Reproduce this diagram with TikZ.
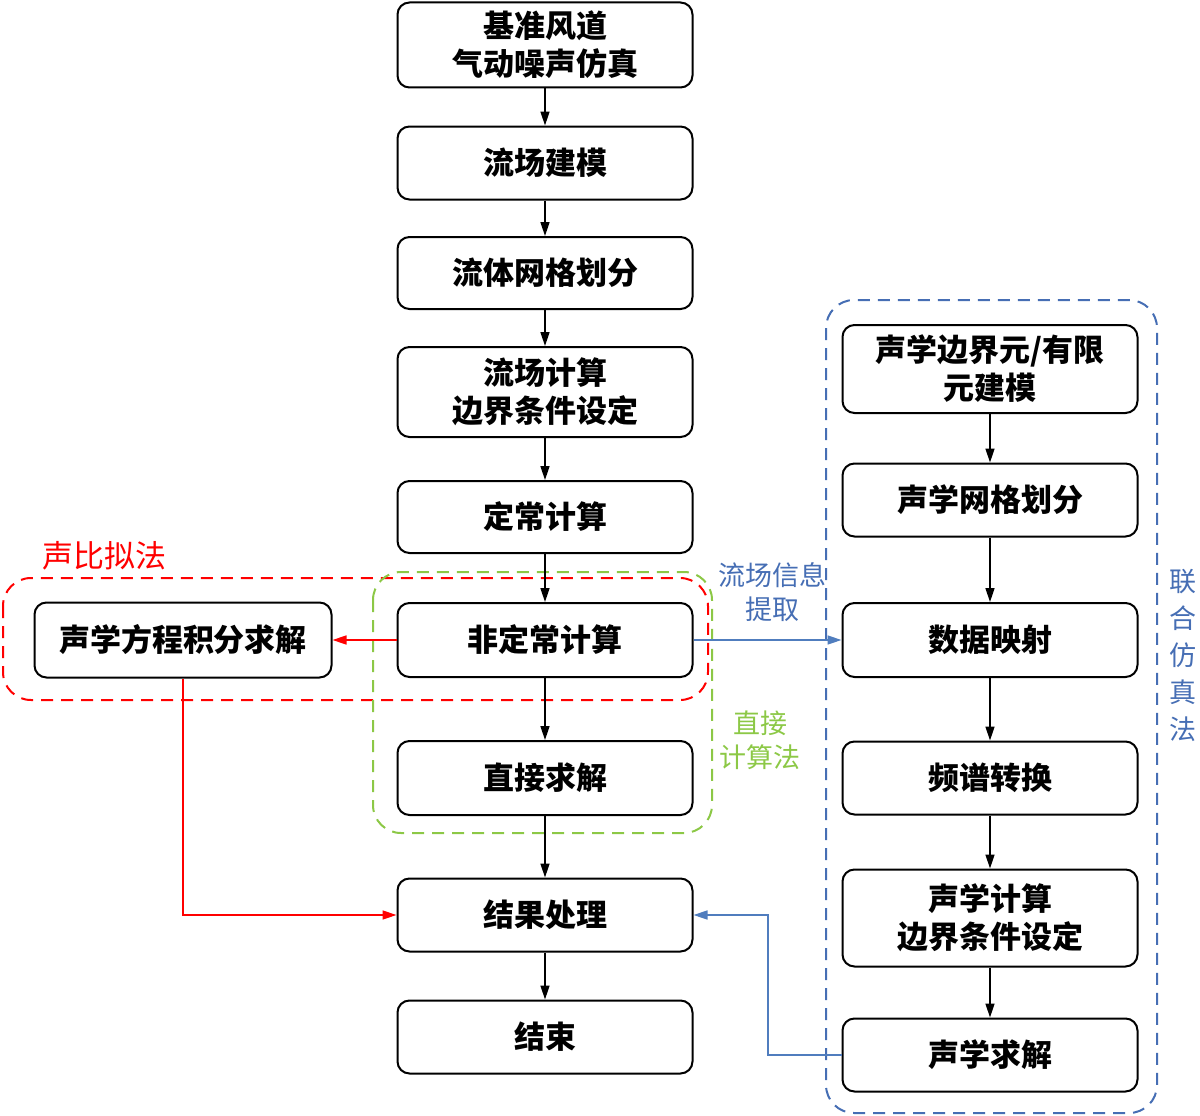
\documentclass[tikz,border=0pt]{standalone}
\usepackage{fontspec}
\setmainfont{Noto Sans CJK SC}
\usetikzlibrary{arrows.meta}
\definecolor{myred}{RGB}{255,0,0}
\definecolor{mygreen}{RGB}{140,200,70}
\definecolor{myblue}{RGB}{70,110,180}
\definecolor{myarrowblue}{RGB}{80,125,190}
\tikzset{
  box/.style={draw=black, line width=2pt, rounded corners=12pt, fill=white,
    minimum width=295pt, align=center, font=\fontsize{31}{38}\selectfont\bfseries, inner sep=0pt},
  flow/.style={-{Triangle[length=14pt,width=9pt]}, line width=1.6pt, black},
  redflow/.style={-{Triangle[length=14pt,width=9pt]}, line width=1.6pt, myred},
  blueflow/.style={-{Triangle[length=14pt,width=9pt]}, line width=1.6pt, myarrowblue},
  region/.style={dashed, dash pattern=on 12pt off 8pt, line width=2pt, rounded corners=28pt},
  lbl/.style={font=\fontsize{27}{34}\selectfont, align=center, inner sep=0pt}
}
\begin{document}
\begin{tikzpicture}[x=1pt,y=-1pt]
\useasboundingbox (0,0) rectangle (1200,1116);
% regions
\draw[region, myred] (3,578) rectangle (708,700);
\draw[region, mygreen] (373,572) rectangle (712,833);
\draw[region, myblue] (826,300) rectangle (1157,1113);
\node[lbl, myred, font=\fontsize{31}{36}\selectfont] (lsb) at (104,556) {声比拟法};
\node[lbl, mygreen] (lzj) at (760,740) {直接\\计算法};
\node[lbl, myblue] (llc) at (772,592) {流场信息\\提取};
\node[lbl, myblue, font=\fontsize{27}{37}\selectfont] (llh) at (1183,655) {联\\合\\仿\\真\\法};
% left/main column
\node[box, minimum height=85pt] (a1) at (545,45) {基准风道\\气动噪声仿真};
\node[box, minimum height=73pt] (a2) at (545,163) {流场建模};
\node[box, minimum height=72pt] (a3) at (545,273) {流体网格划分};
\node[box, minimum height=90pt] (a4) at (545,392) {流场计算\\边界条件设定};
\node[box, minimum height=72pt] (a5) at (545,517) {定常计算};
\node[box, minimum height=74pt] (a6) at (545,640) {非定常计算};
\node[box, minimum height=74pt] (a7) at (545,778) {直接求解};
\node[box, minimum height=73pt] (a8) at (545,915) {结果处理};
\node[box, minimum height=73pt] (a9) at (545,1037) {结束};
\node[box, minimum height=75pt, minimum width=297pt] (s1) at (183,640) {声学方程积分求解};
% right column
\node[box, minimum height=88pt] (b1) at (990,369) {声学边界元/有限\\元建模};
\node[box, minimum height=73pt] (b2) at (990,500) {声学网格划分};
\node[box, minimum height=74pt] (b3) at (990,640) {数据映射};
\node[box, minimum height=73pt] (b4) at (990,778) {频谱转换};
\node[box, minimum height=97pt] (b5) at (990,918) {声学计算\\边界条件设定};
\node[box, minimum height=73pt] (b6) at (990,1055) {声学求解};
% arrows main
\draw[flow] (a1) -- (a2);
\draw[flow] (a2) -- (a3);
\draw[flow] (a3) -- (a4);
\draw[flow] (a4) -- (a5);
\draw[flow] (a5) -- (a6);
\draw[flow] (a6) -- (a7);
\draw[flow] (a7) -- (a8);
\draw[flow] (a8) -- (a9);
\draw[flow] (b1) -- (b2);
\draw[flow] (b2) -- (b3);
\draw[flow] (b3) -- (b4);
\draw[flow] (b4) -- (b5);
\draw[flow] (b5) -- (b6);
% red
\draw[redflow] (a6.west) -- (s1.east);
\draw[redflow] (s1.south) |- (a8.west);
% blue
\draw[blueflow] (a6.east) -- (b3.west);
\coordinate (turn) at (768,1055);
\draw[blueflow] (b6.west) -- (turn) |- (a8.east);
\end{tikzpicture}
\end{document}
